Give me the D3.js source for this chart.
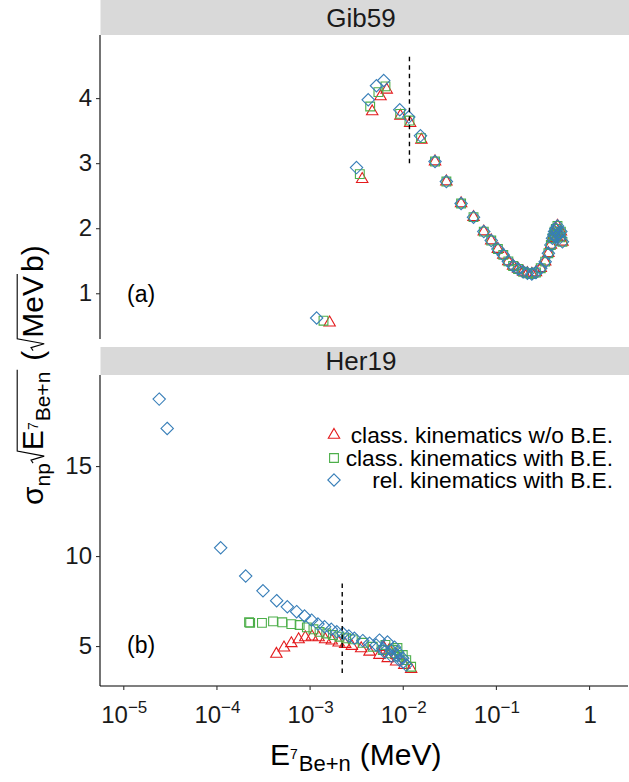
<!DOCTYPE html>
<html><head><meta charset="utf-8">
<script src="https://cdn.jsdelivr.net/npm/d3@7"></script>
<style>body{margin:0;background:#fff;} svg{display:block;font-family:"Liberation Sans",Arial,sans-serif;}</style>
</head><body><svg id="c" width="629" height="782"></svg>
<script>
// ---------------- data ----------------
const seriesNames = ["class. kinematics w/o B.E.", "class. kinematics with B.E.", "rel. kinematics with B.E."];
const seriesColors = ["#E41A1C", "#4DAF4A", "#377EB8"];
const panelNames = ["Gib59", "Her19"];
const panelTags = ["(a)", "(b)"];
const xTickValues = [1e-5, 1e-4, 1e-3, 1e-2, 1e-1, 1];
const xTickExps = ["−5", "−4", "−3", "−2", "−1", ""];
const gibTicks = [1, 2, 3, 4];
const herTicks = [5, 10, 15];

// Gib59 (a): low-energy points differ per series
const gibLowE_cl  = [1.64e-3, 3.67e-3, 4.70e-3, 5.77e-3, 6.73e-3, 9.44e-3, 1.20e-2, 1.585e-2];
const gibLowY_cl  = [0.548, 2.754, 3.794, 4.025, 4.128, 3.728, 3.615, 3.358];
const gibLowE_be  = [1.41e-3, 3.46e-3, 4.47e-3, 5.48e-3, 6.52e-3, 9.38e-3, 1.18e-2, 1.57e-2];
const gibLowY_be  = [0.578, 2.831, 3.871, 4.092, 4.18, 3.758, 3.655, 3.385];
const gibLowE_rel = [1.19e-3, 3.19e-3, 4.26e-3, 5.22e-3, 6.25e-3, 9.29e-3, 1.16e-2, 1.55e-2];
const gibLowY_rel = [0.62, 2.932, 3.974, 4.19, 4.27, 3.82, 3.708, 3.42];
// Gib59 (a): high-energy points where the three series coincide
const gibHighE = [2.22e-2, 2.94e-2, 4.23e-2, 5.75e-2, 7.41e-2, 8.91e-2, 0.105, 0.120, 0.136, 0.153, 0.173, 0.196, 0.218, 0.243, 0.269, 0.303, 0.338, 0.366, 0.389, 0.405, 0.42, 0.426, 0.44, 0.45, 0.458, 0.47, 0.49, 0.498, 0.518];
const gibHighY = [3.025, 2.717, 2.38, 2.17, 1.948, 1.81, 1.68, 1.59, 1.49, 1.42, 1.374, 1.33, 1.307, 1.297, 1.32, 1.385, 1.486, 1.615, 1.743, 1.846, 1.90, 1.948, 1.99, 1.87, 2.035, 1.92, 1.86, 1.948, 1.79];

// Her19 (b)
const herE_cl = [4.40e-4, 5.31e-4, 6.37e-4, 7.62e-4, 8.99e-4, 1.06e-3, 1.25e-3, 1.47e-3, 1.73e-3, 2.05e-3, 2.41e-3, 2.84e-3, 3.58e-3, 4.40e-3, 5.62e-3, 6.21e-3, 6.90e-3, 7.19e-3, 8.49e-3, 8.55e-3, 1.04e-2, 1.23e-2];
const herY_cl = [4.56, 4.91, 5.15, 5.37, 5.48, 5.52, 5.48, 5.37, 5.30, 5.19, 5.11, 5.00, 4.87, 4.68, 4.50, 4.94, 4.32, 4.78, 4.13, 4.50, 3.94, 3.72];
const herE_be = [2.24e-4, 2.30e-4, 3.08e-4, 4.05e-4, 5.09e-4, 6.37e-4, 7.82e-4, 9.35e-4, 1.10e-3, 1.28e-3, 1.51e-3, 1.78e-3, 2.09e-3, 2.47e-3, 2.91e-3, 3.72e-3, 4.76e-3, 6.10e-3, 6.52e-3, 7.50e-3, 7.94e-3, 8.77e-3, 9.20e-3, 1.0e-2, 1.09e-2, 1.23e-2];
const herY_be = [6.32, 6.29, 6.29, 6.37, 6.32, 6.22, 6.17, 6.04, 5.93, 5.79, 5.70, 5.61, 5.52, 5.43, 5.37, 5.18, 4.96, 4.78, 5.06, 4.59, 4.78, 4.89, 4.41, 4.50, 4.22, 3.85];
const herE_rel = [2.43e-5, 2.96e-5, 1.11e-4, 2.06e-4, 3.16e-4, 4.43e-4, 5.77e-4, 7.26e-4, 8.83e-4, 1.05e-3, 1.23e-3, 1.45e-3, 1.71e-3, 1.96e-3, 2.28e-3, 2.64e-3, 3.03e-3, 3.72e-3, 4.40e-3, 5.19e-3, 5.62e-3, 6.11e-3, 6.37e-3, 6.86e-3, 7.50e-3, 7.57e-3, 8.15e-3, 8.49e-3, 8.77e-3, 9.20e-3, 1.0e-2, 1.016e-2, 1.09e-2];
const herY_rel = [18.72, 17.09, 10.46, 8.89, 8.07, 7.52, 7.18, 6.91, 6.67, 6.44, 6.22, 6.07, 5.93, 5.79, 5.70, 5.56, 5.43, 5.30, 5.15, 5.06, 5.33, 4.87, 4.67, 5.22, 4.78, 4.44, 4.94, 4.50, 4.67, 4.22, 4.32, 4.11, 3.94];

// reference (dashed) lines: [E, y0, y1]
const gibRefLine = [0.0118, 3.0, 4.67];
const herRefLine = [0.00224, 3.5, 8.5];

// ---------------- layout ----------------
const svg = d3.select("#c");
const X0 = 100, X1 = 628;
const x = d3.scaleLog().domain([Math.pow(10, -5.25), Math.pow(10, 0.418)]).range([X0, X1]);
const panels = [
  { top: 35, bottom: 339, stripTop: 0, stripBottom: 35, domain: [0.297, 4.97], ticks: gibTicks, tagY: 302,
    series: [
      { E: gibLowE_cl.concat(gibHighE), Y: gibLowY_cl.concat(gibHighY) },
      { E: gibLowE_be.concat(gibHighE), Y: gibLowY_be.concat(gibHighY) },
      { E: gibLowE_rel.concat(gibHighE), Y: gibLowY_rel.concat(gibHighY) }
    ], ref: gibRefLine },
  { top: 375, bottom: 686, stripTop: 347, stripBottom: 375, domain: [2.78, 20.06], ticks: herTicks, tagY: 653,
    series: [
      { E: herE_cl, Y: herY_cl },
      { E: herE_be, Y: herY_be },
      { E: herE_rel, Y: herY_rel }
    ], ref: herRefLine }
];

function shapePath(i) {
  if (i === 0) return "M0,-6.6L5.7,3.3L-5.7,3.3Z";
  if (i === 1) return "M-4.4,-4.4H4.4V4.4H-4.4Z";
  return "M0,-6.2L6.2,0L0,6.2L-6.2,0Z";
}

panels.forEach((p, pi) => {
  const y = d3.scaleLinear().domain(p.domain).range([p.bottom, p.top]);
  // strip
  svg.append("rect").attr("x", X0 + 0.5).attr("y", p.stripTop).attr("width", X1 + 1 - X0).attr("height", p.stripBottom - p.stripTop).attr("fill", "#D9D9D9");
  svg.append("text").attr("x", (X0 + X1) / 2 - 3).attr("y", (p.stripTop + p.stripBottom) / 2 + 9)
    .attr("text-anchor", "middle").attr("font-size", 26).attr("fill", "#1A1A1A").text(panelNames[pi]);
  // y axis
  const ya = svg.append("g").attr("transform", `translate(${X0},0)`)
    .call(d3.axisLeft(y).tickValues(p.ticks).tickFormat(d3.format("d")).tickSize(4).tickPadding(4).tickSizeOuter(0));
  ya.select(".domain").attr("stroke", "#000").attr("stroke-width", 1.1).attr("d", `M0,${p.top}V${p.bottom}`);
  ya.selectAll(".tick line").attr("stroke", "#333").attr("stroke-width", 1.1);
  ya.selectAll(".tick text").attr("font-size", 24).attr("fill", "#1A1A1A").attr("font-family", "Liberation Sans, Arial, sans-serif");
  // points
  const clip = "clip" + pi;
  svg.append("clipPath").attr("id", clip).append("rect").attr("x", X0).attr("y", p.top).attr("width", X1 - X0).attr("height", p.bottom - p.top);
  const g = svg.append("g").attr("clip-path", `url(#${clip})`);
  p.series.forEach((s, si) => {
    g.append("g").selectAll("path").data(s.E.map((e, k) => [e, s.Y[k]])).join("path")
      .attr("transform", d => `translate(${x(d[0])},${y(d[1])})`)
      .attr("d", shapePath(si)).attr("fill", "none").attr("stroke", seriesColors[si]).attr("stroke-width", 1.1);
  });
  // dashed ref line
  svg.append("line").attr("x1", x(p.ref[0])).attr("x2", x(p.ref[0])).attr("y1", y(p.ref[1])).attr("y2", y(p.ref[2]))
    .attr("stroke", "#000").attr("stroke-width", 1.4).attr("stroke-dasharray", "4.5,4");
  // tag
  svg.append("text").attr("x", 127).attr("y", p.tagY).attr("font-size", 23).attr("fill", "#000").text(panelTags[pi]);
  if (pi === 1) {
    const xa = svg.append("g").attr("transform", `translate(0,${p.bottom})`)
      .call(d3.axisBottom(x).tickValues(xTickValues).tickSize(4).tickFormat("").tickSizeOuter(0));
    xa.select(".domain").attr("stroke", "#000").attr("stroke-width", 1.1).attr("d", `M${X0},0H${X1}`);
    xa.selectAll(".tick line").attr("stroke", "#333").attr("stroke-width", 1.1);
    xTickValues.forEach((v, k) => {
      const t = svg.append("text").attr("x", x(v) + 1).attr("y", 723).attr("text-anchor", "middle")
        .attr("font-size", 24).attr("fill", "#1A1A1A");
      if (xTickExps[k]) {
        t.append("tspan").text("10");
        t.append("tspan").attr("font-size", 17).attr("dy", -10).text(xTickExps[k]);
      } else t.text("1");
    });
  }
});

// legend
const legY = [435, 458, 480];
seriesNames.forEach((n, i) => {
  svg.append("path").attr("transform", `translate(334,${legY[i]})`).attr("d", shapePath(i))
    .attr("fill", "none").attr("stroke", seriesColors[i]).attr("stroke-width", 1.1);
  svg.append("text").attr("x", 613).attr("y", legY[i] + 8).attr("text-anchor", "end")
    .attr("font-size", 22.7).attr("fill", "#000").text(n);
});

// run-layout helper for math-like titles
function layoutRun(g, pieces, fs) {
  let cx = 0;
  pieces.forEach(pc => {
    if (pc.gap) { cx += pc.gap; return; }
    if (pc.rad) {
      const xs = cx + 13; cx = xs;
      const sub = g.append("g");
      const end = layoutRunInner(sub, pc.rad, xs);
      const top = -fs * 0.86;
      g.append("path").attr("d", `M${xs - 13},${-fs * 0.33}L${xs - 10},${-fs * 0.4}L${xs - 6},${fs * 0.04}L${xs - 1},${top}H${end + 2}`)
        .attr("fill", "none").attr("stroke", "#000").attr("stroke-width", 1.1);
      cx = end + 2; return;
    }
    cx = layoutRunInner(g, [pc], cx);
  });
  return cx;
}
function layoutRunInner(g, pieces, cx) {
  pieces.forEach(pc => {
    if (pc.gap) { cx += pc.gap; return; }
    const t = g.append("text").attr("x", cx).attr("y", pc.dy || 0).attr("font-size", pc.size).attr("fill", "#000").text(pc.t);
    cx += t.node().getComputedTextLength();
  });
  return cx;
}

// x title
const xt = svg.append("g").attr("transform", "translate(270,765)");
layoutRun(xt, [
  { t: "E", size: 30 }, { t: "7", size: 14, dy: -6 }, { gap: 1 }, { t: "Be+n", size: 22, dy: 6 },
  { gap: 9 }, { t: "(MeV)", size: 30 }
], 30);

// y title (rotated)
const yt = svg.append("g").attr("transform", "translate(43,505) rotate(-90)");
layoutRun(yt, [
  { t: "σ", size: 30 }, { t: "np", size: 21, dy: 7 },
  { rad: [{ t: "E", size: 30 }, { t: "7", size: 14, dy: -5 }, { gap: 1 }, { t: "Be+n", size: 21, dy: 7 }] },
  { gap: 9 }, { t: "(", size: 30 },
  { rad: [{ t: "MeV", size: 30 }] }, { gap: 2 }, { t: "b", size: 30 }, { t: ")", size: 30 }
], 30);
</script></body></html>
